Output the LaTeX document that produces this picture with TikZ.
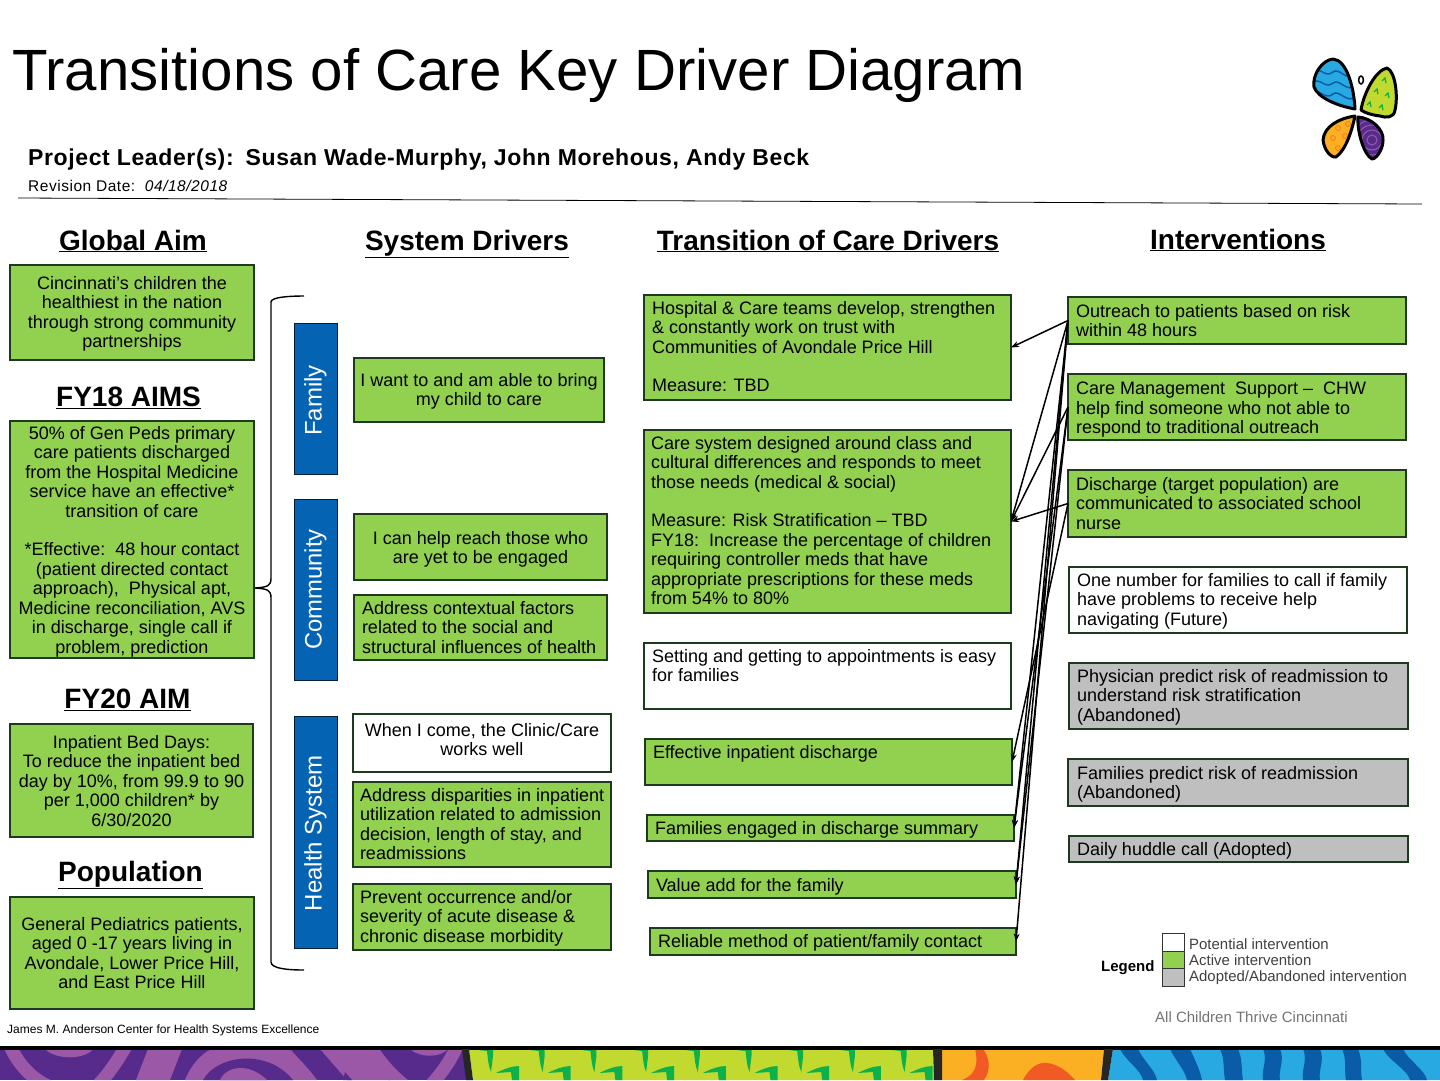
\documentclass[tikz,border=0pt]{standalone}
\usepackage{fontspec}
\setmainfont{Liberation Sans}
\usetikzlibrary{arrows.meta}
\definecolor{gr}{HTML}{92D050}
\definecolor{bd}{HTML}{1E3A1E}
\definecolor{bl}{HTML}{0563B3}
\definecolor{gy}{HTML}{BFBFBF}
\definecolor{pd}{HTML}{562B8C}
\definecolor{pl}{HTML}{9A58A6}
\definecolor{lg}{HTML}{C2D92F}
\definecolor{dg}{HTML}{0DB14B}
\definecolor{og}{HTML}{FBB024}
\definecolor{rd}{HTML}{F15A24}
\definecolor{sk}{HTML}{29A9E1}
\definecolor{db}{HTML}{0B5CA8}
\newlength\bxw\newlength\bxh
\newcommand\bx[9]{%
 \setlength\bxw{\dimexpr #4pt-#2pt\relax}\setlength\bxh{\dimexpr #5pt-#3pt\relax}%
 \node[boxn,fill=#6,anchor=north west] (#1) at (#2,#3) {\parbox[c][\bxh][t]{\bxw}{\fontsize{18}{19.5}\selectfont\lineskiplimit=-20pt #9\ifx c#8\centering\else\raggedright\leftskip=#8pt\fi\vspace*{#7pt}\bxtext}};}
\newcommand\bxtext{}
\newcommand\tbx[9]{\renewcommand\bxtext{#9}\bx{#1}{#2}{#3}{#4}{#5}{#6}{#7}{#8}{}}
\tikzset{x=1pt,y=-1pt,
 boxn/.style={draw=bd,line width=1.6pt,inner sep=0pt,outer sep=0pt},
 head/.style={font=\fontsize{28}{30}\selectfont\bfseries,inner sep=0pt},
 bar/.style={fill=bl,draw=black!70!bl,line width=.8pt,inner sep=0pt,text=white,font=\fontsize{24}{26}\selectfont,rotate=90,anchor=center},
 conn/.style={-{Stealth[length=8pt,width=6pt]},line width=1.5pt,black},
 wing/.style={draw=black,line width=3pt,line join=round},
 swatch/.style={draw=black!80,line width=.8pt,minimum width=22pt,minimum height=17.5pt,inner sep=0pt,anchor=north west}}
\begin{document}
\begin{tikzpicture}
\useasboundingbox (0,0) rectangle (1440,1080);
% title block
\node[anchor=west,inner sep=0pt,font=\fontsize{58.2}{60}\selectfont] (title) at (12,75) {Transitions of Care Key Driver Diagram};
\node[anchor=west,inner sep=0pt,font=\fontsize{23}{25}\selectfont\bfseries] (lead) at (28,160) {\addfontfeatures{LetterSpace=2.7}Project Leader(s):\ \hspace{5pt}Susan Wade-Murphy, John Morehous, Andy Beck};
\node[anchor=west,inner sep=0pt,font=\fontsize{15.5}{17}\selectfont] (rev) at (28,186) {\addfontfeatures{LetterSpace=3.4}Revision Date:\ \ \textit{\addfontfeatures{LetterSpace=3.4}04/18/2018}};
\coordinate (ruleL) at (18,198);\coordinate (ruleR) at (1422,204);
\draw[line width=.8pt,black] (ruleL) -- (ruleR);
% butterfly
\def\wblue{(1355,109) .. controls (1354,88) and (1347,60) .. (1333,59) .. controls (1322,60) and (1312,75) .. (1314,87) .. controls (1318,98) and (1338,106) .. (1355,109) -- cycle}
\def\wgreen{(1361,110) .. controls (1364,92) and (1376,70) .. (1387,68) .. controls (1396,72) and (1398,98) .. (1395,110) .. controls (1394,118) and (1386,118) .. (1380,116) .. controls (1372,115) and (1365,113) .. (1361,110) -- cycle}
\def\worange{(1355,116) .. controls (1340,118) and (1324,126) .. (1323,140) .. controls (1324,150) and (1331,158) .. (1336,157) .. controls (1346,150) and (1352,130) .. (1355,116) -- cycle}
\def\wpurple{(1358,117) .. controls (1372,118) and (1384,130) .. (1383,140) .. controls (1383,150) and (1376,159) .. (1372,159) .. controls (1364,155) and (1357,132) .. (1358,117) -- cycle}
\fill[sk] \wblue;
\begin{scope}
\clip \wblue;
\foreach \d in {0,11,22,33} \draw[db,line width=1.5pt] (1312,72+\d) .. controls (1320,65+\d) and (1325,79+\d) .. (1333,72+\d) .. controls (1340,67+\d) and (1345,82+\d) .. (1358,75+\d);
\end{scope}
\draw[wing] \wblue;
\fill[lg] \wgreen;
\foreach \p in {(1385,79),(1377,90),(1388,94),(1370,103),(1382,106)} \draw[dg,line width=1.3pt] \p ++(-3,2) -- ++(3,-3) -- ++(1,5);
\draw[wing] \wgreen;
\draw[black,line width=1.5pt] (1361,80) ellipse (2.4 and 4);
\fill[og] \worange;
\foreach \p in {(1338,128),(1348,124),(1333,138),(1345,136),(1338,148)} \draw[rd!60!og,line width=.8pt] \p circle (2.5);
\draw[wing] \worange;
\fill[pd] \wpurple;
\begin{scope}
\clip \wpurple;
\foreach \r in {5,10,15,20} \draw[pl,line width=1pt] (1372,140) circle (\r);
\end{scope}
\draw[wing] \wpurple;
% headings
\node[head] (hGlobal) at (133,241) {\underline{Global Aim}};
\node[head] (hSys) at (467,244) {\underline{System Drivers}};
\node[head] (hTrans) at (828,241) {\underline{Transition of Care Drivers}};
\node[head] (hInt) at (1238,240) {\underline{Interventions}};
\node[head] (hFY18) at (128.5,398) {\underline{FY18 AIMS}};
\node[head] (hFY20) at (127.5,700) {\underline{FY20 AIM}};
\node[head] (hPop) at (130.5,875) {\underline{Population}};
% left column
\tbx{aim}{10}{265}{254}{360}{gr}{11}{c}{Cincinnati’s children the\\healthiest in the nation\\through strong community\\partnerships}
\tbx{gen}{10}{421}{254}{658}{gr}{5}{c}{50\% of Gen Peds primary\\care patients discharged\\from the Hospital Medicine\\service have an effective*\\transition of care\\[19pt]*Effective:\ \ 48 hour contact\\(patient directed contact\\approach),\ \ Physical apt,\\Medicine reconciliation, AVS\\in discharge, single call if\\problem, prediction}
\tbx{bed}{10}{724}{253}{837}{gr}{11}{c}{Inpatient Bed Days:\\To reduce the inpatient bed\\day by 10\%, from 99.9 to 90\\per 1,000 children* by\\6/30/2020}
\tbx{pop}{10}{897}{254}{1009}{gr}{20}{c}{General Pediatrics patients,\\aged 0 -17 years living in\\Avondale, Lower Price Hill,\\and East Price Hill}
% bars
\node[bar,minimum width=151pt,minimum height=43pt] (family) at (315.5,398.5) {\hspace*{-4pt}Family};
\node[bar,minimum width=181pt,minimum height=43pt] (community) at (315.5,589.5) {\fontsize{23.8}{26}\selectfont Community};
\node[bar,minimum width=232pt,minimum height=43pt] (health) at (315.5,832) {\hspace*{-2pt}Health System};
% brace
\coordinate (brT) at (304,296);\coordinate (brB) at (304,970);\coordinate (brTip) at (255,588);
\draw[line width=1.4pt,black] (brT) .. controls (290,296) and (271,297) .. (271,302) -- (271,578) .. controls (271,586) and (268,587) .. (brTip) .. controls (268,589) and (271,590) .. (271,598) -- (271,962) .. controls (271,969) and (290,970) .. (brB);
% system drivers
\tbx{want}{354}{358}{604}{422}{gr}{15}{c}{I want to and am able to bring\\my child to care}
\tbx{help}{354}{514}{607}{580}{gr}{17}{c}{I can help reach those who\\are yet to be engaged}
\tbx{ctx}{354}{595}{607}{660}{gr}{6}{8}{Address contextual factors\\related to the social and\\structural influences of health}
\tbx{come}{353}{714}{611}{772}{white}{9}{c}{When I come, the Clinic/Care\\works well}
\tbx{disp}{353}{782}{611}{867}{gr}{6}{7}{Address disparities in inpatient\\utilization related to admission\\decision, length of stay, and\\readmissions}
\tbx{prev}{353}{884}{611}{950}{gr}{6}{7}{Prevent occurrence and/or\\severity of acute disease \&\\chronic disease morbidity}
% transition drivers
\tbx{hosp}{644}{295}{1011}{400}{gr}{6}{8}{Hospital \& Care teams develop, strengthen\\\& constantly work on trust with\\Communities of Avondale Price Hill\\[19pt]Measure: TBD}
\tbx{care}{644}{430}{1011}{613}{gr}{6}{7}{Care system designed around class and\\cultural differences and responds to meet\\those needs (medical \& social)\\[19pt]Measure: Risk Stratification – TBD\\FY18:\ \ Increase the percentage of children\\requiring controller meds that have\\appropriate prescriptions for these meds\\from 54\% to 80\%}
\tbx{setg}{644}{643}{1011}{709}{white}{6}{8}{Setting and getting to appointments is easy\\for families}
\tbx{effd}{645}{739}{1012}{785}{gr}{6}{8}{Effective inpatient discharge}
\tbx{fame}{647}{815}{1014}{841}{gr}{6}{8}{Families engaged in discharge summary}
\tbx{valu}{648}{871}{1016}{898}{gr}{7}{8}{Value add for the family}
\tbx{reli}{650}{928}{1016}{955}{gr}{6}{8}{Reliable method of patient/family contact}
% interventions
\tbx{outr}{1068}{297}{1406}{344}{gr}{7}{8}{Outreach to patients based on risk\\within 48 hours}
\tbx{cmgt}{1068}{374}{1406}{440}{gr}{8}{8}{Care Management\ \ Support –\ \ CHW\\help find someone who not able to\\respond to traditional outreach}
\tbx{disc}{1068}{470}{1406}{537}{gr}{7}{8}{Discharge (target population) are\\communicated to associated school\\nurse}
\tbx{onen}{1069}{567}{1407}{633}{white}{6}{8}{One number for families to call if family\\have problems to receive help\\navigating (Future)}
\tbx{phys}{1069}{663}{1408}{729}{gy}{6}{8}{Physician predict risk of readmission to\\understand risk stratification\\(Abandoned)}
\tbx{fpre}{1068}{759}{1408}{806}{gy}{7}{9}{Families predict risk of readmission\\(Abandoned)}
\tbx{dhud}{1069}{836}{1408}{862}{gy}{6}{8}{Daily huddle call (Adopted)}
% connectors
\foreach \a/\b in {outr/hosp,outr/care,cmgt/care,disc/care,disc/effd,outr/fame,cmgt/fame,outr/valu,cmgt/valu,outr/reli}
  \draw[conn] (\a.west) -- (\b.east);
% legend
\node[anchor=west,inner sep=0pt,font=\fontsize{15}{16}\selectfont\bfseries] (legend) at (1101,968) {Legend};
\node[swatch,fill=white] (s1) at (1162,933) {};
\node[swatch,fill=gr] (s2) at (1162,951) {};
\node[swatch,fill=gy] (s3) at (1162,968) {};
\node[anchor=west,inner sep=0pt,font=\fontsize{14.95}{16}\selectfont,text=black!75] (l1) at (1189,944) {Potential intervention};
\node[anchor=west,inner sep=0pt,font=\fontsize{14.95}{16}\selectfont,text=black!75] (l2) at (1189,960) {Active intervention};
\node[anchor=west,inner sep=0pt,font=\fontsize{14.95}{16}\selectfont,text=black!75] (l3) at (1189,978) {Adopted/Abandoned intervention};
\node[anchor=west,inner sep=0pt,font=\fontsize{15}{17}\selectfont,text=black!55] (act) at (1155,1017) {All Children Thrive Cincinnati};
\node[anchor=west,inner sep=0pt,font=\fontsize{12}{14}\selectfont] (foot) at (7,1030) {James M. Anderson Center for Health Systems Excellence};
% bottom strip: purple
\fill[pd] (0,1049) rectangle (466,1080);
\begin{scope}
\clip (0,1049) -- (462,1049) -- (466,1080) -- (0,1080) -- cycle;
\fill[pl] (45,1049) .. controls (55,1060) and (85,1060) .. (93,1049) -- cycle;
\draw[pl,line width=13pt] (10,1046) .. controls (20,1068) and (35,1080) .. (48,1086);
\draw[pl,line width=13pt] (126,1046) .. controls (118,1060) and (108,1075) .. (97,1086);
\fill[pl] (148,1049) -- (182,1049) -- (170,1080) -- (136,1080) -- cycle;
\fill[pl] (185,1080) .. controls (193,1060) and (207,1050) .. (213,1049) -- (290,1049) .. controls (300,1060) and (310,1070) .. (317,1080) -- cycle;
\fill[pd] (203,1080) .. controls (217,1055) and (267,1048) .. (293,1080) -- cycle;
\fill[pl] (220,1080) .. controls (227,1065) and (250,1063) .. (267,1080) -- cycle;
\fill[pl] (320,1049) -- (365,1049) .. controls (372,1060) and (385,1072) .. (390,1080) -- (347,1080) -- cycle;
\fill[pd] (343,1080) -- (345,1072) -- (352,1080) -- cycle;
\fill[pl] (410,1049) .. controls (420,1058) and (440,1058) .. (448,1049) -- cycle;
\draw[pl,line width=13pt] (370,1046) .. controls (378,1060) and (390,1074) .. (405,1086);
\draw[pl,line width=13pt] (457,1046) .. controls (450,1062) and (440,1075) .. (430,1086);
\end{scope}
% green
\fill[lg] (469,1049) -- (933,1049) -- (934,1080) -- (473,1080) -- cycle;
\begin{scope}
\clip (469,1049) -- (933,1049) -- (934,1080) -- (473,1080) -- cycle;
\foreach \i in {0,...,8} {
 \pgfmathsetmacro\xx{490+\i*51.7}
 \fill[dg] (\xx-20,1049) -- (\xx+3,1049) -- (\xx+3,1056) -- (\xx+1,1072) .. controls (\xx-2,1065) and (\xx-2,1058) .. (\xx-3,1051) -- cycle;
 \fill[dg] (\xx+6,1073) .. controls (\xx+14,1069) and (\xx+22,1066) .. (\xx+29,1066) -- (\xx+29,1080) -- (\xx+22,1080) -- (\xx+21,1072) -- cycle;
}
\end{scope}
% orange
\fill[og] (942,1049) -- (1104,1049) -- (1101,1080) -- (942,1080) -- cycle;
\begin{scope}
\clip (942,1049) -- (1104,1049) -- (1101,1080) -- (942,1080) -- cycle;
\fill[rd] (975,1049) .. controls (979,1065) and (975,1075) .. (962,1080) -- (984,1080) .. controls (991,1070) and (990,1058) .. (983,1049) -- cycle;
\fill[rd] (1023,1080) .. controls (1030,1066) and (1040,1062) .. (1047,1063) .. controls (1058,1064) and (1068,1072) .. (1075,1080) -- cycle;
\end{scope}
% blue
\fill[sk] (1113,1049) -- (1440,1049) -- (1440,1080) -- (1108,1080) -- cycle;
\foreach \a/\b/\c/\d in {1120/1138/1157/1143,1170/1190/1202/1187,1220/1238/1243/1225,1263/1280/1280/1263,1303/1320/1320/1303,1342/1358/1362/1346,1383/1403/1427/1410}
  \fill[db] (\a,1049) -- (\b,1049) .. controls (\b+5,1060) and (\c-2,1070) .. (\c,1080) -- (\d,1080) .. controls (\d-2,1070) and (\a+5,1060) .. (\a,1049) -- cycle;
\coordinate (stripL) at (0,1047.5);\coordinate (stripR) at (1440,1047.5);
\draw[black,line width=4pt] (stripL) -- (stripR);
\fill[black!85] (462,1049) -- (469,1049) -- (473,1080) -- (466,1080) -- cycle;
\fill[black!85] (933,1049) -- (942,1049) -- (942,1080) -- (934,1080) -- cycle;
\fill[black!85] (1104,1049) -- (1113,1049) -- (1108,1080) -- (1101,1080) -- cycle;
\end{tikzpicture}
\end{document}
